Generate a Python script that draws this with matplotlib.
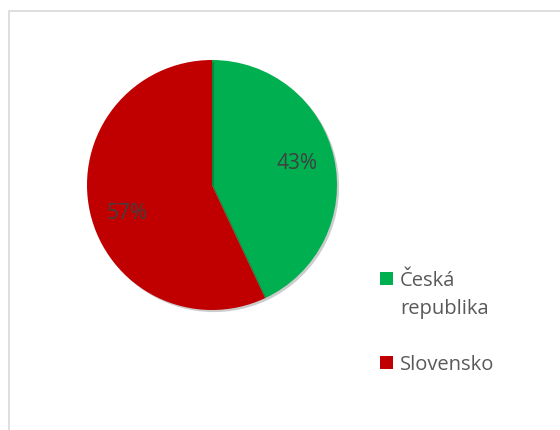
import numpy as np
import matplotlib.pyplot as plt
import matplotlib.patheffects as pe
from matplotlib.patches import Rectangle

countries = ['Česká\nrepublika', 'Slovensko']
shares = [43, 57]
colors = ['#00B050', '#C00000']

W, H = 560, 431
fig = plt.figure(figsize=(W / 100, H / 100), dpi=100)
plt.rcParams['font.family'] = ['Open Sans', 'DejaVu Sans']

# chart area border
fig.patches.append(Rectangle((8.5 / W, -0.1), 1.2, 1 - 11.5 / H + 0.1,
                             transform=fig.transFigure, fill=False,
                             edgecolor='#d9d9d9', linewidth=1.2))

# pie placed by pixel: centre (212, 186), radius 125
cx, cy, r = 212, 186, 125
ax = fig.add_axes([(cx - r) / W, (H - cy - r) / H, 2 * r / W, 2 * r / H])
wedges, texts, autotexts = ax.pie(
    shares, colors=colors, startangle=90, counterclock=False,
    autopct='%1.0f%%', pctdistance=0.71, radius=1,
    textprops={'color': '#404040', 'fontsize': 15},
    wedgeprops={'linewidth': 0})
for w in wedges:
    w.set_path_effects([pe.SimplePatchShadow(offset=(1.5, -1.5), alpha=0.2,
                                             shadow_rgbFace='#000000'),
                        pe.Normal()])

# swing the percentage labels a little anticlockwise off the wedge middle
rot = np.deg2rad(4)
for t in autotexts:
    x, y = t.get_position()
    t.set_position((x * np.cos(rot) - y * np.sin(rot),
                    x * np.sin(rot) + y * np.cos(rot) - 0.02))

ax.set_xlim(-1, 1)
ax.set_ylim(-1, 1)
ax.set_aspect('equal')
ax.axis('off')

# legend: square aligned with the first line of each label
key_tops = [273, 357]
for w, label, top in zip(wedges, countries, key_tops):
    fig.patches.append(Rectangle((380 / W, 1 - (top + 13) / H), 13 / W, 13 / H,
                                 transform=fig.transFigure,
                                 facecolor=w.get_facecolor(), edgecolor='none'))
    fig.text(400 / W, 1 - (top - 2) / H, label, transform=fig.transFigure,
             ha='left', va='top', fontsize=14.5, color='#595959',
             linespacing=1.55)

fig.savefig('out.png', dpi=100)
